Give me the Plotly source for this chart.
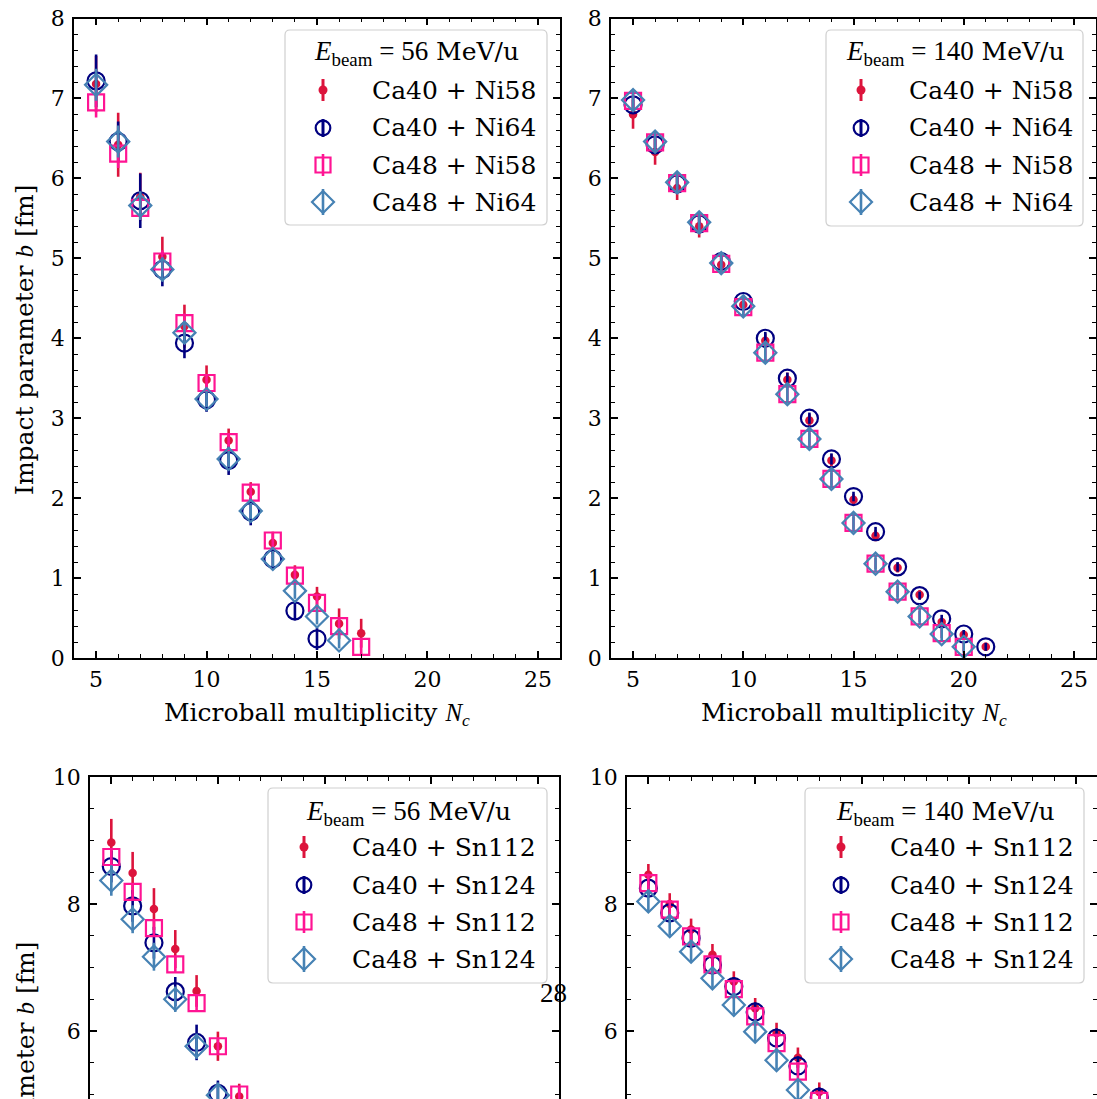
import plotly.graph_objects as go

W, H = 1097, 1099

# ---------------------------------------------------------------------------
# Impact parameter b [fm] versus Microball multiplicity N_c
# ---------------------------------------------------------------------------

# Ca + Ni, E_beam = 56 MeV/u
ni56_ca40ni58_n = [5, 6, 7, 8, 9, 10, 11, 12, 13, 14, 15, 16, 17]
ni56_ca40ni58_b = [7.18, 6.42, 5.77, 5.02, 4.15, 3.48, 2.72, 2.08, 1.44, 1.04, 0.77, 0.43, 0.31]
ni56_ca40ni58_e = [0.35, 0.40, 0.30, 0.25, 0.27, 0.18, 0.15, 0.12, 0.14, 0.12, 0.12, 0.19, 0.18]

ni56_ca40ni64_n = [5, 6, 7, 8, 9, 10, 11, 12, 13, 14, 15]
ni56_ca40ni64_b = [7.22, 6.46, 5.72, 4.86, 3.94, 3.23, 2.47, 1.83, 1.24, 0.59, 0.24]
ni56_ca40ni64_e = [0.33, 0.25, 0.34, 0.21, 0.19, 0.15, 0.18, 0.17, 0.14, 0.12, 0.14]

ni56_ca48ni58_n = [5, 6, 7, 8, 9, 10, 11, 12, 13, 14, 15, 16, 17]
ni56_ca48ni58_b = [6.95, 6.31, 5.63, 4.96, 4.19, 3.44, 2.70, 2.07, 1.47, 1.03, 0.69, 0.40, 0.14]
ni56_ca48ni58_e = [0.19, 0.18, 0.15, 0.14, 0.12, 0.11, 0.10, 0.10, 0.09, 0.09, 0.09, 0.10, 0.10]

ni56_ca48ni64_n = [5, 6, 7, 8, 9, 10, 11, 12, 13, 14, 15, 16]
ni56_ca48ni64_b = [7.17, 6.46, 5.66, 4.86, 4.07, 3.24, 2.49, 1.84, 1.24, 0.84, 0.52, 0.22]
ni56_ca48ni64_e = [0.20, 0.20, 0.18, 0.15, 0.12, 0.10, 0.10, 0.10, 0.10, 0.10, 0.10, 0.10]

# Ca + Ni, E_beam = 140 MeV/u
ni140_ca40ni58_n = [5, 6, 7, 8, 9, 10, 11, 12, 13, 14, 15, 16, 17, 18, 19, 20, 21]
ni140_ca40ni58_b = [6.80, 6.33, 5.88, 5.40, 4.92, 4.42, 3.97, 3.48, 2.97, 2.47, 1.98, 1.53, 1.13, 0.79, 0.45, 0.29, 0.14]
ni140_ca40ni58_e = [0.18, 0.16, 0.15, 0.14, 0.10, 0.10, 0.09, 0.09, 0.08, 0.08, 0.07, 0.07, 0.06, 0.06, 0.05, 0.05, 0.05]

ni140_ca40ni64_n = [5, 6, 7, 8, 9, 10, 11, 12, 13, 14, 15, 16, 17, 18, 19, 20, 21]
ni140_ca40ni64_b = [6.92, 6.42, 5.93, 5.43, 4.96, 4.46, 4.00, 3.50, 3.00, 2.49, 2.02, 1.58, 1.14, 0.78, 0.49, 0.30, 0.14]
ni140_ca40ni64_e = [0.10, 0.10, 0.09, 0.09, 0.08, 0.08, 0.08, 0.07, 0.07, 0.07, 0.06, 0.06, 0.06, 0.05, 0.05, 0.05, 0.05]

ni140_ca48ni58_n = [5, 6, 7, 8, 9, 10, 11, 12, 13, 14, 15, 16, 17, 18, 19, 20]
ni140_ca48ni58_b = [6.97, 6.45, 5.94, 5.44, 4.93, 4.39, 3.82, 3.30, 2.74, 2.24, 1.69, 1.18, 0.83, 0.52, 0.31, 0.14]
ni140_ca48ni58_e = [0.10, 0.10, 0.10, 0.09, 0.09, 0.09, 0.09, 0.08, 0.08, 0.08, 0.08, 0.07, 0.07, 0.07, 0.06, 0.06]

ni140_ca48ni64_n = [5, 6, 7, 8, 9, 10, 11, 12, 13, 14, 15, 16, 17, 18, 19, 20]
ni140_ca48ni64_b = [6.98, 6.46, 5.95, 5.45, 4.94, 4.40, 3.82, 3.30, 2.74, 2.24, 1.69, 1.18, 0.83, 0.52, 0.30, 0.14]
ni140_ca48ni64_e = [0.12, 0.12, 0.12, 0.12, 0.12, 0.12, 0.12, 0.12, 0.12, 0.12, 0.12, 0.11, 0.10, 0.10, 0.09, 0.08]

# Ca + Sn, E_beam = 56 MeV/u
sn56_ca40sn112_n = [5, 6, 7, 8, 9, 10, 11]
sn56_ca40sn112_b = [8.97, 8.49, 7.92, 7.29, 6.63, 5.76, 4.97]
sn56_ca40sn112_e = [0.37, 0.33, 0.33, 0.30, 0.25, 0.23, 0.20]

sn56_ca40sn124_n = [5, 6, 7, 8, 9, 10]
sn56_ca40sn124_b = [8.59, 7.97, 7.39, 6.62, 5.82, 5.02]
sn56_ca40sn124_e = [0.25, 0.25, 0.25, 0.23, 0.28, 0.20]

sn56_ca48sn112_n = [5, 6, 7, 8, 9, 10, 11]
sn56_ca48sn112_b = [8.74, 8.19, 7.62, 7.05, 6.44, 5.76, 5.00]
sn56_ca48sn112_e = [0.13, 0.13, 0.12, 0.12, 0.12, 0.12, 0.12]

sn56_ca48sn124_n = [5, 6, 7, 8, 9, 10]
sn56_ca48sn124_b = [8.37, 7.76, 7.17, 6.50, 5.76, 4.99]
sn56_ca48sn124_e = [0.24, 0.22, 0.22, 0.20, 0.20, 0.20]

# Ca + Sn, E_beam = 140 MeV/u
sn140_ca40sn112_n = [5, 6, 7, 8, 9, 10, 11, 12, 13]
sn140_ca40sn112_b = [8.46, 8.00, 7.60, 7.20, 6.78, 6.36, 5.97, 5.58, 5.04]
sn140_ca40sn112_e = [0.17, 0.17, 0.17, 0.17, 0.16, 0.16, 0.16, 0.16, 0.15]

sn140_ca40sn124_n = [5, 6, 7, 8, 9, 10, 11, 12, 13]
sn140_ca40sn124_b = [8.25, 7.86, 7.46, 7.04, 6.70, 6.30, 5.89, 5.45, 4.96]
sn140_ca40sn124_e = [0.15, 0.15, 0.15, 0.15, 0.15, 0.15, 0.15, 0.15, 0.15]

sn140_ca48sn112_n = [5, 6, 7, 8, 9, 10, 11, 12, 13]
sn140_ca48sn112_b = [8.33, 7.91, 7.49, 7.05, 6.66, 6.23, 5.81, 5.36, 4.90]
sn140_ca48sn112_e = [0.15, 0.15, 0.15, 0.15, 0.15, 0.15, 0.15, 0.15, 0.15]

sn140_ca48sn124_n = [5, 6, 7, 8, 9, 10, 11, 12, 13]
sn140_ca48sn124_b = [8.04, 7.65, 7.25, 6.83, 6.41, 5.99, 5.54, 5.07, 4.60]
sn140_ca48sn124_e = [0.15, 0.15, 0.15, 0.15, 0.15, 0.15, 0.15, 0.15, 0.15]

NI_LABELS = ["Ca40 + Ni58", "Ca40 + Ni64", "Ca48 + Ni58", "Ca48 + Ni64"]
SN_LABELS = ["Ca40 + Sn112", "Ca40 + Sn124", "Ca48 + Sn112", "Ca48 + Sn124"]
BEAM_ENERGIES = ["56", "140", "56", "140"]

# ---------------------------------------------------------------------------
# Styling
# ---------------------------------------------------------------------------
COLORS = ["#dc143c", "#000080", "#ff1493", "#4682b4"]
TEXT_FONT = "DejaVu Serif"
MATH_FONT = "Liberation Serif"


def px(x):
    return x / W


def py(y):
    return 1 - y / H


def math(s, size=None):
    style = "font-family:" + MATH_FONT
    if size:
        style += ";font-size:" + str(size) + "px"
    return "<span style='" + style + "'>" + s + "</span>"


def marker_style(k, color):
    if k == 0:
        return dict(symbol="circle", size=8.5, color=color, line=dict(width=0))
    if k == 1:
        return dict(symbol="circle-open", size=17, color=color, line=dict(width=2.2, color=color))
    if k == 2:
        return dict(symbol="square-open", size=16, color=color, line=dict(width=2.2, color=color))
    return dict(symbol="diamond-open", size=17, color=color, line=dict(width=2.2, color=color))


panels = [
    ("x", "y", [
        (ni56_ca40ni58_n, ni56_ca40ni58_b, ni56_ca40ni58_e),
        (ni56_ca40ni64_n, ni56_ca40ni64_b, ni56_ca40ni64_e),
        (ni56_ca48ni58_n, ni56_ca48ni58_b, ni56_ca48ni58_e),
        (ni56_ca48ni64_n, ni56_ca48ni64_b, ni56_ca48ni64_e)]),
    ("x2", "y2", [
        (ni140_ca40ni58_n, ni140_ca40ni58_b, ni140_ca40ni58_e),
        (ni140_ca40ni64_n, ni140_ca40ni64_b, ni140_ca40ni64_e),
        (ni140_ca48ni58_n, ni140_ca48ni58_b, ni140_ca48ni58_e),
        (ni140_ca48ni64_n, ni140_ca48ni64_b, ni140_ca48ni64_e)]),
    ("x3", "y3", [
        (sn56_ca40sn112_n, sn56_ca40sn112_b, sn56_ca40sn112_e),
        (sn56_ca40sn124_n, sn56_ca40sn124_b, sn56_ca40sn124_e),
        (sn56_ca48sn112_n, sn56_ca48sn112_b, sn56_ca48sn112_e),
        (sn56_ca48sn124_n, sn56_ca48sn124_b, sn56_ca48sn124_e)]),
    ("x4", "y4", [
        (sn140_ca40sn112_n, sn140_ca40sn112_b, sn140_ca40sn112_e),
        (sn140_ca40sn124_n, sn140_ca40sn124_b, sn140_ca40sn124_e),
        (sn140_ca48sn112_n, sn140_ca48sn112_b, sn140_ca48sn112_e),
        (sn140_ca48sn124_n, sn140_ca48sn124_b, sn140_ca48sn124_e)]),
]

fig = go.Figure()
for xa, ya, series in panels:
    for k, (n, b, e) in enumerate(series):
        fig.add_trace(go.Scatter(
            x=n, y=b, xaxis=xa, yaxis=ya, mode="markers",
            marker=marker_style(k, COLORS[k]),
            error_y=dict(type="data", array=e, visible=True, color=COLORS[k],
                         thickness=2.6, width=0),
            showlegend=False, cliponaxis=True, hoverinfo="skip"))

# ---------------------------------------------------------------------------
# Axes
# ---------------------------------------------------------------------------
tickfont = dict(family=TEXT_FONT, size=22, color="black")
common = dict(showline=True, linecolor="black", linewidth=1.5, ticks="inside",
              tickcolor="black", tickwidth=1.5, ticklen=7, showgrid=False,
              zeroline=False, tickfont=tickfont, fixedrange=True, automargin=False)


def xaxis(dom, anchor, bottom=True):
    d = dict(common, domain=dom, anchor=anchor, range=[4, 26], tick0=0, dtick=5,
             minor=dict(dtick=1, ticklen=4, tickwidth=1.2, tickcolor="black",
                        ticks="inside", showgrid=False))
    if bottom:
        d.update(side="bottom", mirror="allticks", ticklabelstandoff=1)
    else:
        d.update(side="top", mirror=False, showticklabels=False)
    return d


def yaxis(dom, anchor, rng, dtick, minor):
    return dict(common, domain=dom, anchor=anchor, range=rng, tick0=0, dtick=dtick,
                mirror="allticks", ticklabelstandoff=3,
                minor=dict(dtick=minor, ticklen=4, tickwidth=1.2, tickcolor="black",
                           ticks="inside", showgrid=False))


bottom_pxu = 63.5
bottom_lo = 10 - (H - 777) / bottom_pxu

fig.update_layout(
    width=W, height=H, autosize=False,
    margin=dict(l=0, r=0, t=0, b=0, pad=0, autoexpand=False),
    paper_bgcolor="white", plot_bgcolor="white",
    xaxis=xaxis([px(74), px(560)], "y"),
    yaxis=yaxis([py(658), py(18.5)], "x", [0, 8], 1, 0.2),
    xaxis2=xaxis([px(611), px(1096)], "y2"),
    yaxis2=yaxis([py(658), py(18.5)], "x2", [0, 8], 1, 0.2),
    xaxis3=xaxis([px(90), px(559)], "y3", bottom=False),
    yaxis3=yaxis([0, py(777)], "x3", [bottom_lo, 10], 2, 0.5),
    xaxis4=xaxis([px(627), 1.0], "y4", bottom=False),
    yaxis4=yaxis([0, py(777)], "x4", [bottom_lo, 10], 2, 0.5),
)

# ---------------------------------------------------------------------------
# Legends (drawn as boxed keys inside each panel)
# ---------------------------------------------------------------------------
legend_boxes = [
    dict(box=(285, 30, 547, 225), title=(416, 53), gx=323, tx=370, rows=(90, 128, 165, 202), labels=NI_LABELS),
    dict(box=(826, 30, 1083, 226), title=(955, 53), gx=861, tx=907, rows=(90, 128, 165, 202), labels=NI_LABELS),
    dict(box=(268, 788, 547, 983), title=(408, 813), gx=304, tx=350, rows=(847, 885, 922, 959), labels=SN_LABELS),
    dict(box=(805, 788, 1084, 983), title=(945, 813), gx=841, tx=888, rows=(847, 885, 922, 959), labels=SN_LABELS),
]

shapes = []
annotations = []


def rounded_rect(x0, y0, x1, y1, r):
    pts = [
        ("M", x0 + r, y0), ("L", x1 - r, y0), ("Q", x1, y0, x1, y0 + r),
        ("L", x1, y1 - r), ("Q", x1, y1, x1 - r, y1), ("L", x0 + r, y1),
        ("Q", x0, y1, x0, y1 - r), ("L", x0, y0 + r), ("Q", x0, y0, x0 + r, y0)]
    out = []
    for p in pts:
        cmd, vals = p[0], p[1:]
        coords = []
        for i in range(0, len(vals), 2):
            coords.append(f"{px(vals[i]):.5f},{py(vals[i + 1]):.5f}")
        out.append(cmd + " " + " ".join(coords))
    return " ".join(out) + " Z"


def vline(x, y0, y1, color, w):
    return dict(type="line", xref="paper", yref="paper", x0=px(x), x1=px(x),
                y0=py(y0), y1=py(y1), line=dict(color=color, width=w), layer="above")


for idx, lg in enumerate(legend_boxes):
    x0, y0, x1, y1 = lg["box"]
    shapes.append(dict(type="path", xref="paper", yref="paper",
                       path=rounded_rect(x0, y0, x1, y1, 5),
                       fillcolor="rgba(255,255,255,0.8)",
                       line=dict(color="#cfcfcf", width=1.2), layer="above"))
    annotations.append(dict(
        xref="paper", yref="paper", x=px(lg["title"][0]), y=py(lg["title"][1]),
        xanchor="center", yanchor="middle", showarrow=False,
        text=math("<i>E</i><sub>beam</sub> = " + BEAM_ENERGIES[idx], 27) + " MeV/u",
        font=dict(family=TEXT_FONT, size=25, color="black")))
    gx = lg["gx"]
    for k, yrow in enumerate(lg["rows"]):
        c = COLORS[k]
        if k == 0:
            shapes.append(vline(gx, yrow - 11, yrow + 11, c, 3))
            shapes.append(dict(type="circle", xref="paper", yref="paper",
                               x0=px(gx - 4.5), x1=px(gx + 4.5), y0=py(yrow + 4.5), y1=py(yrow - 4.5),
                               fillcolor=c, line=dict(color=c, width=0), layer="above"))
        elif k == 1:
            shapes.append(vline(gx, yrow - 9, yrow + 9, c, 3))
            shapes.append(dict(type="circle", xref="paper", yref="paper",
                               x0=px(gx - 7.3), x1=px(gx + 7.3), y0=py(yrow + 7.3), y1=py(yrow - 7.3),
                               line=dict(color=c, width=2.2), layer="above"))
        elif k == 2:
            shapes.append(vline(gx, yrow - 11, yrow + 11, c, 2.6))
            shapes.append(dict(type="rect", xref="paper", yref="paper",
                               x0=px(gx - 7.5), x1=px(gx + 7.5), y0=py(yrow + 7.5), y1=py(yrow - 7.5),
                               line=dict(color=c, width=2.2), layer="above"))
        else:
            shapes.append(vline(gx, yrow - 13, yrow + 13, c, 2.6))
            d = 11
            path = (f"M {px(gx):.5f},{py(yrow - d):.5f} L {px(gx + d):.5f},{py(yrow):.5f} "
                    f"L {px(gx):.5f},{py(yrow + d):.5f} L {px(gx - d):.5f},{py(yrow):.5f} Z")
            shapes.append(dict(type="path", xref="paper", yref="paper", path=path,
                               line=dict(color=c, width=2.2), layer="above"))
        annotations.append(dict(
            xref="paper", yref="paper", x=px(lg["tx"]), y=py(yrow),
            xanchor="left", yanchor="middle", showarrow=False, text=lg["labels"][k],
            font=dict(family=TEXT_FONT, size=25, color="black")))

# Axis titles
xlabel = "Microball multiplicity " + math("<i>N</i><sub><i>c</i></sub>")
ylabel = "Impact parameter " + math("<i>b</i>") + " [fm]"
for xc in (317, 854):
    annotations.append(dict(xref="paper", yref="paper", x=px(xc), y=py(714),
                            xanchor="center", yanchor="middle", showarrow=False, text=xlabel,
                            font=dict(family=TEXT_FONT, size=25, color="black")))
for yc in (340, 1097):
    annotations.append(dict(xref="paper", yref="paper", x=px(25), y=py(yc),
                            xanchor="center", yanchor="middle", showarrow=False, text=ylabel,
                            textangle=-90, font=dict(family=TEXT_FONT, size=25, color="black")))

# Page number
annotations.append(dict(xref="paper", yref="paper", x=px(553), y=py(993),
                        xanchor="center", yanchor="middle", showarrow=False, text="28",
                        font=dict(family=MATH_FONT, size=27, color="black")))

fig.update_layout(shapes=shapes, annotations=annotations)

# The page holds only the figure: no body margin, no scrolling.
page_css = ("document.documentElement.style.margin='0';"
            "document.body.style.margin='0';"
            "document.documentElement.style.overflow='hidden';"
            "document.body.style.overflow='hidden';")
fig.write_html("out.html", post_script=page_css)
